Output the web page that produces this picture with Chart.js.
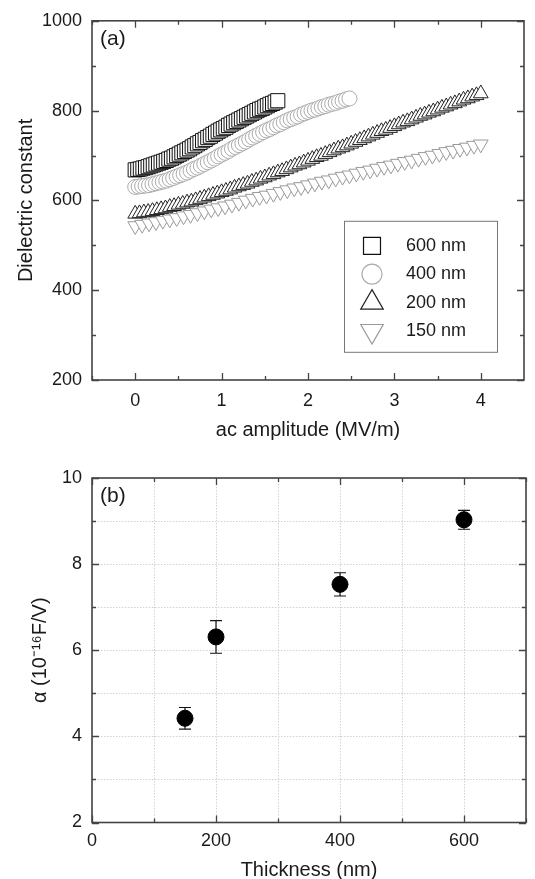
<!DOCTYPE html>
<html>
<head>
<meta charset="utf-8">
<script src="https://cdn.jsdelivr.net/npm/chart.js@4"></script>
<style>
  html, body { margin: 0; padding: 0; background: #fff; }
  body { width: 535px; height: 879px; position: relative; overflow: hidden; }
  canvas { position: absolute; left: 0; }
  #top-chart { top: 0; }
  #bottom-chart { top: 445px; }
</style>
</head>
<body>
<canvas id="top-chart" width="535" height="445"></canvas>
<canvas id="bottom-chart" width="535" height="440"></canvas>
<script>
// (a) dielectric constant vs ac amplitude (MV/m)
var ampX600 = [0, 0.03, 0.06, 0.09, 0.12, 0.15, 0.18, 0.21, 0.24, 0.27, 0.30, 0.33, 0.36, 0.39, 0.42, 0.45, 0.48, 0.51, 0.54, 0.57,
  0.60, 0.63, 0.66, 0.69, 0.72, 0.75, 0.78, 0.81, 0.84, 0.87, 0.90, 0.93, 0.96, 0.99, 1.02, 1.05, 1.08, 1.11, 1.14, 1.17,
  1.20, 1.23, 1.26, 1.29, 1.32, 1.35, 1.38, 1.41, 1.44, 1.47, 1.50, 1.53, 1.56, 1.59, 1.62, 1.65];
var eps600 = [668, 669, 670, 672, 673, 675, 677, 679, 681, 683, 685, 687, 689, 692, 694, 697, 700, 703, 706, 709,
  712, 715, 719, 722, 726, 729, 733, 736, 740, 743, 747, 750, 754, 757, 760, 763, 767, 770, 773, 776,
  779, 782, 785, 788, 791, 794, 797, 800, 803, 805, 808, 811, 814, 816, 819, 822];

var ampX400 = [0, 0.04, 0.08, 0.12, 0.16, 0.20, 0.24, 0.28, 0.32, 0.36, 0.40, 0.44, 0.48, 0.52, 0.56, 0.60, 0.64, 0.68, 0.72, 0.76,
  0.80, 0.84, 0.88, 0.92, 0.96, 1.00, 1.04, 1.08, 1.12, 1.16, 1.20, 1.24, 1.28, 1.32, 1.36, 1.40, 1.44, 1.48, 1.52, 1.56,
  1.60, 1.64, 1.68, 1.72, 1.76, 1.80, 1.84, 1.88, 1.92, 1.96, 2.00, 2.04, 2.08, 2.12, 2.16, 2.20, 2.24, 2.28, 2.32, 2.36,
  2.40, 2.44, 2.48];
var eps400 = [630, 631, 632, 633, 634, 636, 638, 640, 642, 644, 647, 650, 653, 656, 659, 662, 666, 670, 673, 677,
  681, 685, 689, 693, 698, 702, 706, 710, 715, 719, 723, 727, 731, 736, 740, 744, 748, 752, 756, 759,
  763, 767, 770, 774, 778, 781, 784, 787, 791, 794, 797, 800, 802, 805, 808, 810, 813, 815, 817, 820,
  822, 825, 827];

var ampX200 = [0, 0.05, 0.10, 0.15, 0.20, 0.25, 0.30, 0.35, 0.40, 0.45, 0.50, 0.55, 0.60, 0.65, 0.70, 0.75, 0.80, 0.85, 0.90, 0.95,
  1.00, 1.05, 1.10, 1.15, 1.20, 1.25, 1.30, 1.35, 1.40, 1.45, 1.50, 1.55, 1.60, 1.65, 1.70, 1.75, 1.80, 1.85, 1.90, 1.95,
  2.00, 2.05, 2.10, 2.15, 2.20, 2.25, 2.30, 2.35, 2.40, 2.45, 2.50, 2.55, 2.60, 2.65, 2.70, 2.75, 2.80, 2.85, 2.90, 2.95,
  3.00, 3.05, 3.10, 3.15, 3.20, 3.25, 3.30, 3.35, 3.40, 3.45, 3.50, 3.55, 3.60, 3.65, 3.70, 3.75, 3.80, 3.85, 3.90, 3.95,
  4.00];
var eps200 = [570, 571, 573, 574, 576, 578, 580, 582, 585, 587, 590, 592, 595, 597, 600, 603, 606, 609, 612, 615,
  618, 621, 624, 628, 631, 634, 637, 641, 644, 648, 651, 655, 658, 662, 665, 669, 673, 677, 680, 684,
  688, 692, 696, 699, 703, 707, 711, 715, 718, 722, 726, 730, 734, 738, 742, 746, 750, 754, 757, 761,
  765, 769, 773, 776, 780, 784, 788, 791, 795, 798, 802, 806, 809, 813, 816, 820, 824, 827, 831, 834,
  838];

var ampX150 = [0, 0.08, 0.16, 0.24, 0.32, 0.40, 0.48, 0.56, 0.64, 0.72, 0.80, 0.88, 0.96, 1.04, 1.12, 1.20, 1.28, 1.36, 1.44, 1.52,
  1.60, 1.68, 1.76, 1.84, 1.92, 2.00, 2.08, 2.16, 2.24, 2.32, 2.40, 2.48, 2.56, 2.64, 2.72, 2.80, 2.88, 2.96, 3.04, 3.12,
  3.20, 3.28, 3.36, 3.44, 3.52, 3.60, 3.68, 3.76, 3.84, 3.92, 4.00];
var eps150 = [543, 546, 549, 552, 555, 558, 561, 565, 568, 572, 576, 580, 583, 587, 591, 595, 600, 604, 608, 611,
  615, 619, 623, 627, 630, 634, 638, 642, 645, 649, 653, 656, 660, 664, 667, 671, 675, 678, 682, 686,
  689, 693, 697, 700, 704, 708, 711, 715, 718, 722, 725];

var seriesNames = ['600 nm', '400 nm', '200 nm', '150 nm'];
var ampTicks = [0, 1, 2, 3, 4];
var ampMinor = [-0.5, 0.5, 1.5, 2.5, 3.5];
var epsTicks = [200, 400, 600, 800, 1000];
var epsMinor = [300, 500, 700, 900];

// (b) alpha vs thickness
var thickness = [150, 200, 400, 600];
var alphaVals = [4.42, 6.31, 7.53, 9.03];
var alphaErr = [0.25, 0.38, 0.27, 0.22];
var thickTicks = [0, 100, 200, 300, 400, 500, 600, 700];
var alphaTicks = [2, 3, 4, 5, 6, 7, 8, 9, 10];

var INK = '#1a1a1a';
Chart.defaults.font.family = '"Liberation Sans", Arial, sans-serif';
Chart.defaults.color = INK;

function pts(xs, ys) {
  return xs.map(function (x, i) { return { x: x, y: ys[i] }; });
}

function isMajor(v, list) { return list.indexOf(v) >= 0; }

// frame on four sides, inward ticks, panel letter
var framePlugin = {
  id: 'frameTicks',
  afterDatasetsDraw: function (chart, args, opts) {
    var ctx = chart.ctx, a = chart.chartArea;
    var x = chart.scales.x, y = chart.scales.y;
    ctx.save();
    ctx.strokeStyle = '#444';
    ctx.lineWidth = 1.3;
    ctx.beginPath();
    opts.xTicks.forEach(function (v) {
      var len = isMajor(v, opts.xMajor) ? 7 : 4;
      var p = Math.round(x.getPixelForValue(v)) + 0.5;
      ctx.moveTo(p, a.bottom); ctx.lineTo(p, a.bottom - len);
      ctx.moveTo(p, a.top); ctx.lineTo(p, a.top + len);
    });
    opts.yTicks.forEach(function (v) {
      var len = isMajor(v, opts.yMajor) ? 7 : 4;
      var p = Math.round(y.getPixelForValue(v)) + 0.5;
      ctx.moveTo(a.left, p); ctx.lineTo(a.left + len, p);
      ctx.moveTo(a.right, p); ctx.lineTo(a.right - len, p);
    });
    ctx.stroke();
    ctx.lineWidth = 1.6;
    ctx.strokeRect(a.left, a.top, a.right - a.left, a.bottom - a.top);
    ctx.fillStyle = INK;
    ctx.font = '21px "Liberation Sans", Arial, sans-serif';
    ctx.textBaseline = 'middle';
    ctx.textAlign = 'left';
    ctx.fillText(opts.label, a.left + 8, a.top + 18);
    ctx.restore();
  }
};

// legend box inside panel (a)
var boxLegend = {
  id: 'boxLegend',
  afterDraw: function (chart) {
    var ctx = chart.ctx, a = chart.chartArea;
    var bx = a.left + 252, by = a.top + 200, bw = 153, bh = 131;
    ctx.save();
    ctx.strokeStyle = '#777';
    ctx.lineWidth = 1;
    ctx.strokeRect(bx + 0.5, by + 0.5, bw, bh);
    ctx.font = '18px "Liberation Sans", Arial, sans-serif';
    ctx.textBaseline = 'middle';
    ctx.textAlign = 'left';
    var sizes = [12, 10, 13, 13];
    chart.data.datasets.forEach(function (ds, i) {
      var cy = by + 25 + i * 28.4, cx = bx + 28;
      ctx.strokeStyle = ds.borderColor;
      ctx.fillStyle = '#fff';
      ctx.lineWidth = 1.2;
      Chart.helpers.drawPoint(ctx, {
        pointStyle: ds.pointStyle, rotation: ds.rotation || 0,
        radius: sizes[i], borderWidth: 1.2
      }, cx, cy);
      ctx.fillStyle = INK;
      ctx.fillText(ds.label, bx + 62, cy);
    });
    ctx.restore();
  }
};

// error bars for panel (b)
var errorBars = {
  id: 'errorBars',
  beforeDatasetsDraw: function (chart) {
    var ctx = chart.ctx, x = chart.scales.x, y = chart.scales.y;
    ctx.save();
    ctx.strokeStyle = '#111';
    ctx.lineWidth = 1.2;
    ctx.beginPath();
    thickness.forEach(function (t, i) {
      var px = x.getPixelForValue(t);
      var hi = y.getPixelForValue(alphaVals[i] + alphaErr[i]);
      var lo = y.getPixelForValue(alphaVals[i] - alphaErr[i]);
      ctx.moveTo(px, hi); ctx.lineTo(px, lo);
      ctx.moveTo(px - 6, hi); ctx.lineTo(px + 6, hi);
      ctx.moveTo(px - 6, lo); ctx.lineTo(px + 6, lo);
    });
    ctx.stroke();
    ctx.restore();
  }
};

function setTicks(list) {
  return function (s) { s.ticks = list.map(function (v) { return { value: v }; }); };
}
function plain(v) { return String(v); }
function everyOther(step) {
  return function (v) { return v % step === 0 ? String(v) : ''; };
}

new Chart(document.getElementById('top-chart'), {
  type: 'scatter',
  data: {
    datasets: [
      { label: seriesNames[0], data: pts(ampX600, eps600), pointStyle: 'rect', pointRadius: 10,
        borderColor: '#111', backgroundColor: '#fff', borderWidth: 1 },
      { label: seriesNames[1], data: pts(ampX400, eps400), pointStyle: 'circle', pointRadius: 7.5,
        borderColor: '#aaa', backgroundColor: '#fff', borderWidth: 1 },
      { label: seriesNames[2], data: pts(ampX200, eps200), pointStyle: 'triangle', pointRadius: 8.5,
        borderColor: '#222', backgroundColor: '#fff', borderWidth: 1 },
      { label: seriesNames[3], data: pts(ampX150, eps150), pointStyle: 'triangle', pointRadius: 8.5, rotation: 180,
        pointRotation: 180, borderColor: '#999', backgroundColor: '#fff', borderWidth: 1 }
    ]
  },
  options: {
    responsive: false,
    animation: false,
    layout: { padding: { top: 15, right: 2, left: 0, bottom: 0 } },
    plugins: {
      legend: { display: false },
      tooltip: { enabled: false },
      frameTicks: { label: '(a)', xTicks: ampMinor.concat(ampTicks), xMajor: ampTicks,
        yTicks: epsMinor.concat(epsTicks), yMajor: epsTicks }
    },
    scales: {
      x: {
        type: 'linear', min: -0.5, max: 4.5,
        afterBuildTicks: setTicks(ampTicks),
        afterFit: function (s) { s.height = 65; },
        grid: { display: false, drawTicks: false },
        border: { display: false },
        ticks: { font: { size: 18 }, padding: 10, color: INK, callback: plain },
        title: { display: true, text: 'ac amplitude (MV/m)', color: INK, font: { size: 20 }, padding: { top: 0, bottom: 3 } }
      },
      y: {
        min: 200, max: 1000,
        afterBuildTicks: setTicks(epsTicks),
        afterFit: function (s) { s.width = 92; },
        grid: { display: false, drawTicks: false },
        border: { display: false },
        ticks: { font: { size: 18 }, padding: 10, color: INK, callback: plain },
        title: { display: true, text: 'Dielectric constant', color: INK, font: { size: 20 }, padding: { top: 14, bottom: 0 } }
      }
    }
  },
  plugins: [framePlugin, boxLegend]
});

new Chart(document.getElementById('bottom-chart'), {
  type: 'scatter',
  data: {
    datasets: [
      { label: 'alpha', data: pts(thickness, alphaVals), pointStyle: 'circle', pointRadius: 8,
        borderColor: '#000', backgroundColor: '#000', borderWidth: 1 }
    ]
  },
  options: {
    responsive: false,
    animation: false,
    layout: { padding: { top: 33, right: 1, left: 0, bottom: 0 } },
    plugins: {
      legend: { display: false },
      tooltip: { enabled: false },
      frameTicks: { label: '(b)', xTicks: thickTicks, xMajor: [0, 200, 400, 600],
        yTicks: alphaTicks, yMajor: [2, 4, 6, 8, 10] }
    },
    scales: {
      x: {
        type: 'linear', min: 0, max: 700,
        afterBuildTicks: setTicks(thickTicks),
        afterFit: function (s) { s.height = 62.5; },
        grid: { color: '#d2d2d2', lineWidth: 1, drawTicks: false },
        border: { display: false, dash: [1.5, 1.5] },
        ticks: { font: { size: 18 }, padding: 8, color: INK, callback: everyOther(200) },
        title: { display: true, text: 'Thickness (nm)', color: INK, font: { size: 20 }, padding: { top: 0, bottom: 3 } }
      },
      y: {
        min: 2, max: 10,
        afterBuildTicks: setTicks(alphaTicks),
        afterFit: function (s) { s.width = 92; },
        grid: { color: '#d2d2d2', lineWidth: 1, drawTicks: false },
        border: { display: false, dash: [1.5, 1.5] },
        ticks: { font: { size: 18 }, padding: 10, color: INK, callback: everyOther(2) },
        title: { display: true, text: 'α (10⁻¹⁶F/V)', color: INK, font: { size: 20 }, padding: { top: 28, bottom: 0 } }
      }
    }
  },
  plugins: [framePlugin, errorBars]
});
</script>
</body>
</html>
